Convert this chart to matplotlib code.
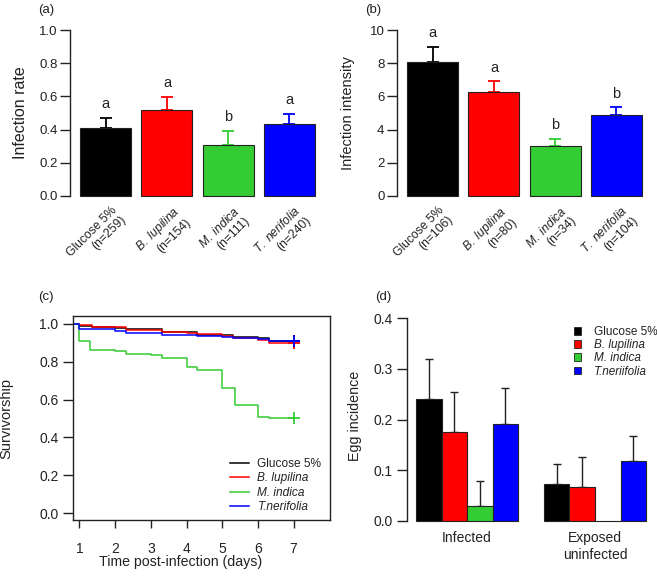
import matplotlib
matplotlib.use("Agg")
import matplotlib.pyplot as plt
from matplotlib.patches import Patch
from matplotlib.lines import Line2D
import numpy as np

plt.rcParams['font.family'] = ['Liberation Sans', 'DejaVu Sans']
plt.rcParams['mathtext.fontset'] = 'custom'
plt.rcParams['mathtext.rm'] = 'Liberation Sans'
plt.rcParams['mathtext.it'] = 'Liberation Sans:italic'
plt.rcParams['axes.linewidth'] = 1.0

W, H = 657, 579
COLORS = ["#000000", "#ff0000", "#33cc33", "#0000ff"]
INK = "#222222"

# ---------- data ----------
diets = ["Glucose 5%", "B. lupilina", "M. indica", "T. nerifolia"]
italic = [False, True, True, True]
n_rate = [259, 154, 111, 240]
n_intensity = [106, 80, 34, 104]

infection_rate = [0.41, 0.52, 0.305, 0.435]
infection_rate_se = [0.06, 0.075, 0.085, 0.06]
rate_letters = ["a", "a", "b", "a"]

infection_intensity = [8.1, 6.25, 3.0, 4.88]
infection_intensity_se = [0.9, 0.65, 0.45, 0.47]
intensity_letters = ["a", "a", "b", "b"]

# survival curves (step times, survivorship)
surv_labels = ["Glucose 5%", "B. lupilina", "M. indica", "T.nerifolia"]
glucose_t = [0, 1, 1.35, 2, 2.3, 3.3, 4.3, 5.3, 6, 6.3, 7]
glucose_s = [1.0, 0.99, 0.985, 0.98, 0.972, 0.955, 0.942, 0.93, 0.925, 0.912, 0.91]
lupilina_t = [0, 1, 1.35, 2.3, 3.3, 4, 4.3, 5, 5.3, 6, 6.3, 7]
lupilina_s = [1.0, 0.992, 0.984, 0.97, 0.958, 0.952, 0.947, 0.935, 0.925, 0.915, 0.898, 0.898]
indica_t = [0, 1, 1.3, 2, 2.3, 3, 3.3, 4, 4.3, 5, 5.35, 6, 6.3, 7]
indica_s = [1.0, 0.908, 0.864, 0.855, 0.842, 0.834, 0.821, 0.772, 0.754, 0.66, 0.57, 0.51, 0.501, 0.501]
nerifolia_t = [0, 1, 2, 2.3, 3.3, 4.3, 5, 5.3, 6, 6.3, 7]
nerifolia_s = [1.0, 0.972, 0.965, 0.95, 0.94, 0.935, 0.93, 0.925, 0.92, 0.912, 0.912]

egg_groups = ["Infected", "Exposed\nuninfected"]
egg_labels = ["Glucose 5%", "B. lupilina", "M. indica", "T.neriifolia"]
egg_infected = [0.24, 0.175, 0.029, 0.192]
egg_infected_se = [0.08, 0.08, 0.05, 0.07]
egg_exposed = [0.072, 0.066, 0.0, 0.118]
egg_exposed_se = [0.04, 0.06, 0.0, 0.05]


def box(l, t, r, b):
    return [l / W, 1 - b / H, (r - l) / W, (b - t) / H]


def label_text(name, ital, n):
    first = "$\\it{" + name.replace(" ", "\\ ").replace("%", "\\%") + "}$" if ital else name
    return first + "\n(n=%d)" % n


fig = plt.figure(figsize=(W / 100, H / 100), dpi=100, facecolor="white")


def bar_panel(px, vals, errs, letters, ns, ylim, ticks, ticklabels, ylabel, ylab_size, ylab_right,
              letter_off, lab_y):
    ax = fig.add_axes(box(*px))
    x = 0.2 + 1.2 * np.arange(len(vals))
    ax.bar(x, vals, width=1.0, align="edge", color=COLORS, edgecolor=INK, linewidth=0.8, zorder=2)
    for i in range(len(vals)):
        ax.errorbar(x[i] + 0.5, vals[i], yerr=[[0], [errs[i]]], fmt="none",
                    ecolor=COLORS[i], elinewidth=1.3, capsize=4.5, capthick=1.3, zorder=1)
        ax.text(x[i] + 0.5, vals[i] + errs[i] + letter_off, letters[i], ha="center", va="center",
                fontsize=10.5, color=INK)
        ax.text(x[i] + 0.6, lab_y, label_text(diets[i], italic[i], ns[i]), rotation=45,
                rotation_mode="anchor", ha="right", va="top", multialignment="right",
                fontsize=8.7, color=INK, linespacing=1.15)
    ax.set_xlim(0, 4.9)
    ax.set_ylim(*ylim)
    ax.set_xticks([])
    ax.set_yticks(ticks)
    ax.set_yticklabels(ticklabels, fontsize=9.5, color=INK)
    for s in ["top", "right", "bottom"]:
        ax.spines[s].set_visible(False)
    ax.spines["left"].set_bounds(ticks[0], ticks[-1])
    ax.spines["left"].set_color(INK)
    ax.tick_params(axis="y", direction="out", length=7, width=1, color=INK, pad=2)
    ax.set_ylabel(ylabel, fontsize=ylab_size, color=INK)
    ax.yaxis.set_label_coords((ylab_right - px[0]) / (px[2] - px[0]), 0.5)
    ax.patch.set_alpha(0)
    return ax


# (a)
bar_panel((70, 23.4, 320, 202.6), infection_rate, infection_rate_se, rate_letters, n_rate,
          (-0.04, 1.04), [0, 0.2, 0.4, 0.6, 0.8, 1.0], ["0.0", "0.2", "0.4", "0.6", "0.8", "1.0"],
          "Infection rate", 11.5, 28, 0.085, -0.05)
# (b)
bar_panel((397, 23.4, 647, 202.6), infection_intensity, infection_intensity_se, intensity_letters,
          n_intensity, (-0.4, 10.4), [0, 2, 4, 6, 8, 10], ["0", "2", "4", "6", "8", "10"],
          "Infection intensity", 10.5, 355, 0.8, -0.5)

# (c)
cpx = (73, 316, 330, 520)
axc = fig.add_axes(box(*cpx))
series = [(glucose_t, glucose_s), (lupilina_t, lupilina_s), (indica_t, indica_s), (nerifolia_t, nerifolia_s)]
for (t, s), c, lab in zip(series, COLORS, surv_labels):
    axc.step(t, s, where="post", color=c, lw=1.1, label=lab)
    axc.plot(t[-1], s[-1], marker="+", color=c, ms=9, mew=1.3)
axc.set_xlim(0.82, 8.02)
axc.set_ylim(-0.037, 1.042)
axc.set_xticks(range(1, 8))
axc.set_yticks([0, 0.2, 0.4, 0.6, 0.8, 1.0])
axc.set_yticklabels(["0.0", "0.2", "0.4", "0.6", "0.8", "1.0"])
axc.tick_params(direction="out", length=7, width=1, color=INK, labelsize=10, labelcolor=INK)
axc.tick_params(axis="x", length=6, pad=10)
for s in axc.spines.values():
    s.set_color(INK)
axc.set_xlabel("Time post-infection (days)", fontsize=10.2, color=INK)
axc.xaxis.set_label_coords((181 - cpx[0]) / (cpx[2] - cpx[0]), (cpx[3] - 555) / (cpx[3] - cpx[1]))
axc.set_ylabel("Survivorship", fontsize=10.5, color=INK)
axc.yaxis.set_label_coords((13 - cpx[0]) / (cpx[2] - cpx[0]), 0.5)
handles = [Line2D([], [], color=c, lw=1.1) for c in COLORS]
leg = axc.legend(handles, surv_labels, loc="upper left", bbox_to_anchor=(230 / W, 1 - 458 / H),
                 bbox_transform=fig.transFigure, frameon=False, fontsize=8.6, handlelength=1.6,
                 handletextpad=0.7, labelspacing=0.2, borderpad=0, borderaxespad=0)
for i, tx in enumerate(leg.get_texts()):
    tx.set_color(INK)
    if i > 0:
        tx.set_fontstyle("italic")

# (d)
dpx = (407, 307.9, 650, 523)
axd = fig.add_axes(box(*dpx))
xg1 = np.arange(4)
xg2 = np.arange(4) + 5
axd.bar(xg1, egg_infected, width=1.0, align="edge", color=COLORS, edgecolor=INK, linewidth=0.8, zorder=2)
axd.bar(xg2, egg_exposed, width=1.0, align="edge", color=COLORS, edgecolor=INK, linewidth=0.8, zorder=2)
for xs, vals, errs in [(xg1, egg_infected, egg_infected_se), (xg2, egg_exposed, egg_exposed_se)]:
    for xi, v, e in zip(xs, vals, errs):
        if e > 0:
            axd.errorbar(xi + 0.5, v, yerr=[[0], [e]], fmt="none", ecolor=INK, elinewidth=1.0,
                         capsize=3, capthick=1.0, zorder=1)
axd.set_xlim(-0.35, 9.15)
axd.set_ylim(-0.004, 0.42)
axd.set_xticks([2, 7])
axd.set_xticklabels(egg_groups, fontsize=10, color=INK)
axd.tick_params(axis="x", length=0, pad=6)
axd.set_yticks([0, 0.1, 0.2, 0.3, 0.4])
axd.set_yticklabels(["0.0", "0.1", "0.2", "0.3", "0.4"])
axd.tick_params(axis="y", direction="out", length=7, width=1, color=INK, labelsize=10, labelcolor=INK)
for s in ["top", "right", "bottom"]:
    axd.spines[s].set_visible(False)
axd.spines["left"].set_bounds(0, 0.4)
axd.spines["left"].set_color(INK)
axd.set_ylabel("Egg incidence", fontsize=10.3, color=INK)
axd.yaxis.set_label_coords((362 - dpx[0]) / (dpx[2] - dpx[0]), 0.5)
axd.patch.set_alpha(0)
phandles = [Patch(facecolor=c, edgecolor=INK, linewidth=0.6) for c in COLORS]
leg2 = axd.legend(phandles, egg_labels, loc="upper left", bbox_to_anchor=(574 / W, 1 - 326 / H),
                  bbox_transform=fig.transFigure, frameon=False, fontsize=8.5, handlelength=0.6,
                  handleheight=0.6, handletextpad=1.1, labelspacing=0.1, borderpad=0, borderaxespad=0)
for i, tx in enumerate(leg2.get_texts()):
    tx.set_color(INK)
    if i > 0:
        tx.set_fontstyle("italic")

# panel letters
for lab, (px, py) in zip(["(a)", "(b)", "(c)", "(d)"], [(46, 10), (373, 10), (46, 297), (383, 297)]):
    fig.text(px / W, 1 - py / H, lab, ha="center", va="center", fontsize=9.5, color=INK)

fig.savefig("out.png", dpi=100, facecolor="white")
